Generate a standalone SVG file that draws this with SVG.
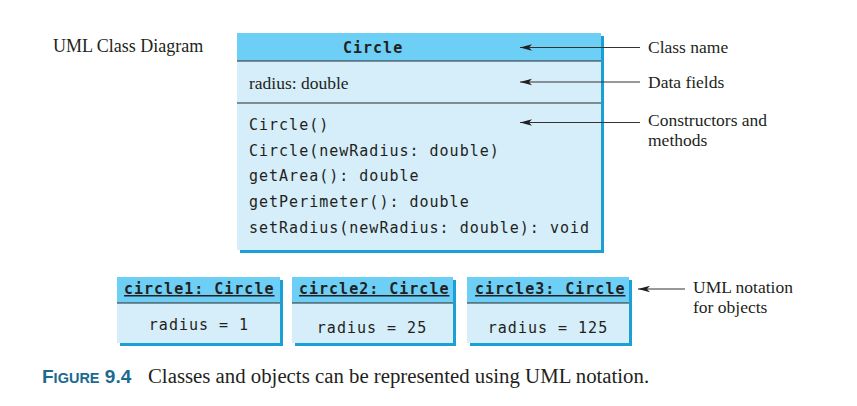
<svg xmlns="http://www.w3.org/2000/svg" width="857" height="406" viewBox="0 0 857 406">
<style>
.hdr{fill:#6dcff6}
.body{fill:#d5eefa}
.shadow{fill:#1aa0d4}
.div{stroke:#2b2b2b;stroke-width:1.2}
.mono{font-family:"DejaVu Sans Mono",monospace;font-size:15px;letter-spacing:1px;fill:#231f20}
.monob{font-family:"DejaVu Sans Mono",monospace;font-size:15px;font-weight:bold;letter-spacing:1px;fill:#231f20}
.serif{font-family:"Liberation Serif","Times New Roman",serif;font-size:17.5px;fill:#231f20}
.conn{stroke:#333;stroke-width:1;fill:none}
.cap{font-family:"Liberation Sans",Arial,sans-serif;font-weight:bold;fill:#1b6a8f}
</style>
<defs>
<marker id="ah" markerWidth="12" markerHeight="8" refX="12" refY="4" orient="auto" markerUnits="userSpaceOnUse">
<path d="M0,0.8 L12,4 L0,7.2 L3,4 Z" fill="#231f20"/>
</marker>
</defs>
<rect width="857" height="406" fill="#ffffff"/>
<text class="serif" x="53" y="52" style="font-size:18px">UML Class Diagram</text>

<g id="class-circle">
<rect class="shadow" x="240" y="36" width="364" height="217"/>
<rect class="hdr" x="237" y="33" width="364" height="28"/>
<rect class="body" x="237" y="61" width="364" height="189"/>
<line class="div" x1="237" y1="61" x2="601" y2="61"/>
<line class="div" x1="237" y1="103" x2="601" y2="103"/>
<text class="monob" x="343" y="53">Circle</text>
<text class="serif" x="249" y="89">radius: double</text>
<text class="mono" x="249" y="130">Circle()</text>
<text class="mono" x="249" y="156">Circle(newRadius: double)</text>
<text class="mono" x="249" y="181">getArea(): double</text>
<text class="mono" x="249" y="207">getPerimeter(): double</text>
<text class="mono" x="249" y="233">setRadius(newRadius: double): void</text>
</g>

<g id="obj-circle1">
<rect class="shadow" x="120" y="280" width="163" height="66"/>
<rect class="hdr" x="117" y="277" width="163" height="26"/>
<rect class="body" x="117" y="303" width="163" height="40"/>
<line class="div" x1="117" y1="303" x2="280" y2="303"/>
<text class="monob" x="124" y="294" text-decoration="underline">circle1: Circle</text>
<text class="mono" x="199" y="330" text-anchor="middle">radius = 1</text>
</g>

<g id="obj-circle2">
<rect class="shadow" x="295" y="280" width="161" height="66"/>
<rect class="hdr" x="292" y="277" width="161" height="26"/>
<rect class="body" x="292" y="303" width="161" height="40"/>
<line class="div" x1="292" y1="303" x2="453" y2="303"/>
<text class="monob" x="299" y="294" text-decoration="underline">circle2: Circle</text>
<text class="mono" x="372" y="333" text-anchor="middle">radius = 25</text>
</g>

<g id="obj-circle3">
<rect class="shadow" x="470" y="280" width="162" height="66"/>
<rect class="hdr" x="467" y="277" width="162" height="26"/>
<rect class="body" x="467" y="303" width="162" height="40"/>
<line class="div" x1="467" y1="303" x2="629" y2="303"/>
<text class="monob" x="475" y="294" text-decoration="underline">circle3: Circle</text>
<text class="mono" x="548" y="333" text-anchor="middle">radius = 125</text>
</g>

<g id="connectors">
<line class="conn" x1="640" y1="47.5" x2="520" y2="47.5" marker-end="url(#ah)"/>
<line class="conn" x1="640" y1="82" x2="520" y2="82" marker-end="url(#ah)"/>
<line class="conn" x1="640" y1="122.5" x2="520" y2="122.5" marker-end="url(#ah)"/>
<line class="conn" x1="685" y1="289" x2="638" y2="289" marker-end="url(#ah)"/>
</g>

<g id="labels">
<text class="serif" x="648" y="53">Class name</text>
<text class="serif" x="648" y="88">Data fields</text>
<text class="serif" x="648" y="126">Constructors and</text>
<text class="serif" x="648" y="145.5">methods</text>
<text class="serif" x="693" y="293">UML notation</text>
<text class="serif" x="693" y="312.5">for objects</text>
</g>

<text x="42" y="383"><tspan class="cap" font-size="19">F</tspan><tspan class="cap" font-size="14.5">IGURE</tspan><tspan class="cap" font-size="19"> 9.4</tspan></text>
<text class="serif" x="148" y="383" style="font-size:20.8px">Classes and objects can be represented using UML notation.</text>
</svg>
